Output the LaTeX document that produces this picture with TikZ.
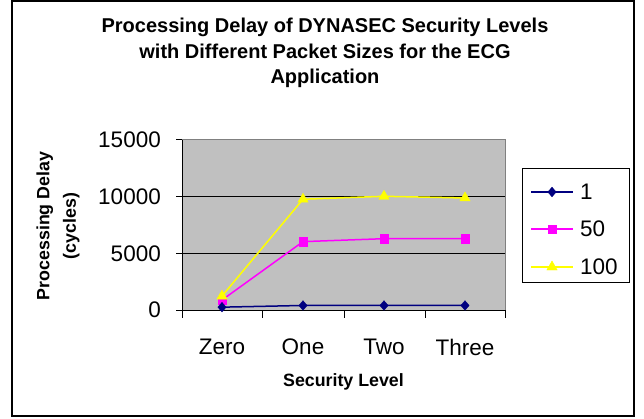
\documentclass[tikz,border=0pt]{standalone}
\usepackage{fontspec}
\setmainfont{Liberation Sans}
\usetikzlibrary{plotmarks}
\definecolor{plotgray}{RGB}{192,192,192}
\definecolor{edgegray}{RGB}{128,128,128}
\definecolor{navyser}{RGB}{0,0,128}
\definecolor{magser}{RGB}{255,0,255}
\definecolor{yelser}{RGB}{255,255,0}
\tikzset{
  ticklabel/.style={font=\fontsize{22.5}{26}\selectfont, inner sep=0pt},
  boldlabel/.style={font=\bfseries\fontsize{17.8}{26.5}\selectfont, align=center, inner sep=0pt},
  titlelabel/.style={font=\bfseries\fontsize{20}{25.5}\selectfont, align=center, inner sep=0pt},
  serone/.style={draw=navyser, line width=1.5pt, mark=diamond*, mark size=4.8pt,
    mark options={solid, fill=navyser, line width=0.4pt, xscale=1.15}},
  serfifty/.style={draw=magser, line width=1.5pt, mark=square*, mark size=4.2pt,
    mark options={solid, fill=magser, line width=0.4pt}},
  serhundred/.style={draw=yelser, line width=1.5pt, mark=triangle*, mark size=6pt,
    mark options={solid, fill=yelser, line width=0.4pt}}
}
\begin{document}
\begin{tikzpicture}[x=1pt,y=-1pt]
\useasboundingbox (0,0) rectangle (644,419);
\draw [line width=2pt] (12,1) rectangle (634,416);
\node[titlelabel] (title) at (325,53) {Processing Delay of DYNASEC Security Levels\\with Different Packet Sizes for the ECG\\Application};
% plot area and axes
\filldraw [fill=plotgray, draw=edgegray, line width=1pt] (182,140) rectangle (505,310);
\draw [line width=1pt] (182,140)--(182,310)--(505,310);
\foreach \x in {182,262,344,425,505} \draw [line width=1pt] (\x,310)--(\x,318);
\foreach \x/\lev in {222/Zero,303/One,384/Two,465/Three}
  \node[ticklabel] (cat\lev) at (\x,347) {\lev};
\node[boldlabel] (xtitle) at (343.5,382) {Security Level};
\node[boldlabel, rotate=90] (ytitle) at (58,226) {Processing Delay\\(cycles)};
\begin{scope}[shift={(0,310)}, y=0.0113333pt]
\foreach \v in {0,5000,10000,15000} {
  \draw [line width=1pt] (176,\v)--(182,\v);
  \node[ticklabel, anchor=east] (ylab\v) at (161,\v) {\v};
}
\foreach \v in {5000,10000} \draw [line width=1pt] (182,\v)--(505,\v);
\draw [serfifty] plot coordinates {(222,880) (303,6030) (384,6290) (465,6290)};
\draw [serhundred] plot coordinates {(222,1230) (303,9770) (384,10030) (465,9880)};
\draw [serone] plot coordinates {(222,250) (303,400) (384,400) (465,400)};
\end{scope}
% legend
\filldraw [fill=white, draw=black, line width=1pt] (522,169) rectangle (629,282);
\foreach \sz/\y/\sty in {1/192/serone,50/229/serfifty,100/267/serhundred} {
  \draw [\sty] (531,\y)--(573,\y);
  \path [\sty, draw=none] plot coordinates {(552,\y)};
  \node[ticklabel, anchor=west] (leg\sz) at (580,\y) {\sz};
}
\end{tikzpicture}
\end{document}
